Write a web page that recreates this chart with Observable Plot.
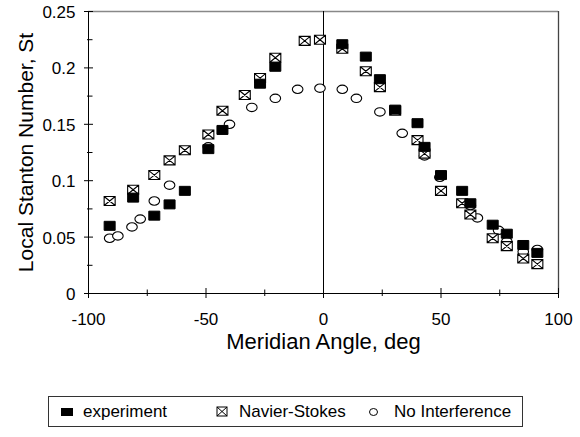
<!DOCTYPE html>
<html>
<head>
<meta charset="utf-8">
<script src="https://cdn.jsdelivr.net/npm/d3@7"></script>
<script src="https://cdn.jsdelivr.net/npm/@observablehq/plot@0.6"></script>
<style>
  html, body { margin: 0; padding: 0; background: #fff; }
  #wrap { position: relative; width: 580px; height: 437px; font-family: "Liberation Sans", Arial, sans-serif; }
  #legend { position: absolute; left: 48px; top: 396px; width: 473px; height: 29px; border: 1px solid #333; box-sizing: content-box; }
  #legend .item { position: absolute; top: 0; height: 29px; line-height: 29px; font-size: 17px; color: #000; white-space: nowrap; }
  #legend svg { position: absolute; }
</style>
</head>
<body>
<div id="wrap"><div id="chart"></div>
<div id="legend"></div></div>
<script>
// ---- data ----
const xDomain = [-100, 100];
const yDomain = [0, 0.25];
const xMajorTicks = [-100, -50, 0, 50, 100];
const xMinorTicks = [-75, -25, 25, 75];
const yMajorTicks = [0, 0.05, 0.1, 0.15, 0.2, 0.25];
const yMinorTicks = [0.025, 0.075, 0.125, 0.175, 0.225];
const centerLine = [0];

const experimentAngle = [-91, -81, -72, -65.5, -59, -49, -43, -27, -20.5, 8, 18, 24, 30.5, 40, 43, 50, 59, 62.5, 72, 78, 85, 91];
const experimentSt    = [0.060, 0.085, 0.069, 0.079, 0.091, 0.128, 0.145, 0.186, 0.201, 0.221, 0.210, 0.190, 0.163, 0.151, 0.130, 0.105, 0.091, 0.080, 0.061, 0.053, 0.043, 0.036];

const nsAngle = [-91, -81, -72, -65.5, -59, -49, -43, -33.5, -27, -20.5, -8, -1.5, 8, 18, 24, 30.5, 40, 43, 50, 59, 62.5, 72, 78, 85, 91];
const nsSt    = [0.082, 0.092, 0.105, 0.118, 0.127, 0.141, 0.162, 0.176, 0.191, 0.209, 0.224, 0.225, 0.217, 0.197, 0.183, 0.162, 0.136, 0.124, 0.091, 0.080, 0.070, 0.049, 0.042, 0.031, 0.026];

const niAngle = [-91, -87.5, -81.5, -78, -72, -65.5, -49, -40, -30.5, -20.5, -11, -1.5, 8, 14, 24, 33.5, 43, 49.5, 62.5, 65.5, 74.5, 78, 85, 91];
const niSt    = [0.049, 0.051, 0.059, 0.066, 0.082, 0.096, 0.130, 0.150, 0.165, 0.173, 0.181, 0.182, 0.181, 0.173, 0.161, 0.142, 0.122, 0.103, 0.078, 0.067, 0.056, 0.046, 0.037, 0.039];

const seriesNames = ["experiment", "Navier-Stokes", "No Interference"];

// ---- build tables ----
const experiment = experimentAngle.map((a, i) => ({angle: a, st: experimentSt[i]}));
const ns = nsAngle.map((a, i) => ({angle: a, st: nsSt[i]}));
const ni = niAngle.map((a, i) => ({angle: a, st: niSt[i]}));

// ---- symbols ----
const hw = 5.5, hh = 4.5;
const rectSymbol = {draw(c) { c.moveTo(-hw, -hh); c.lineTo(hw, -hh); c.lineTo(hw, hh); c.lineTo(-hw, hh); c.closePath(); }};
const crossSymbol = {draw(c) {
  c.moveTo(-hw, -hh); c.lineTo(hw, -hh); c.lineTo(hw, hh); c.lineTo(-hw, hh); c.closePath();
  c.moveTo(-hw, -hh); c.lineTo(hw, hh); c.moveTo(hw, -hh); c.lineTo(-hw, hh);
}};
const K = 0.5523;
const ellipseSymbol = {draw(c) {
  const rx = 5.3, ry = 4.2;
  c.moveTo(rx, 0);
  c.bezierCurveTo(rx, K * ry, K * rx, ry, 0, ry);
  c.bezierCurveTo(-K * rx, ry, -rx, K * ry, -rx, 0);
  c.bezierCurveTo(-rx, -K * ry, -K * rx, -ry, 0, -ry);
  c.bezierCurveTo(K * rx, -ry, rx, -K * ry, rx, 0);
  c.closePath();
}};

// ---- layout ----
const W = 580, H = 380, mL = 88, mR = 22, mT = 11, mB = 87;
const plotW = W - mL - mR, plotH = H - mT - mB;
const fmt = d => String(d);

const chart = Plot.plot({
  width: W, height: H,
  marginLeft: mL, marginRight: mR, marginTop: mT, marginBottom: mB,
  style: {fontFamily: "'Liberation Sans', Arial, sans-serif", background: "#fff", color: "#000"},
  x: {domain: xDomain},
  y: {domain: yDomain},
  marks: [
    Plot.ruleY([yDomain[1]], {stroke: "#888", strokeWidth: 1.3}),
    Plot.ruleX([xDomain[1]], {stroke: "#444", strokeWidth: 1.3}),
    Plot.ruleX(centerLine, {stroke: "#000", strokeWidth: 1}),
    Plot.ruleX([xDomain[0]], {stroke: "#000", strokeWidth: 1}),
    Plot.ruleY([yDomain[0]], {stroke: "#000", strokeWidth: 1}),
    Plot.tickX(xMajorTicks, {x: d => d, stroke: "#000", insetTop: plotH - 5, insetBottom: -5}),
    Plot.tickX(xMinorTicks, {x: d => d, stroke: "#000", insetTop: plotH - 3.5, insetBottom: -3}),
    Plot.tickY(yMajorTicks, {y: d => d, stroke: "#000", insetLeft: -4, insetRight: plotW - 5}),
    Plot.tickY(yMinorTicks, {y: d => d, stroke: "#000", insetLeft: -1, insetRight: plotW - 4.5}),
    Plot.axisX({ticks: xMajorTicks, tickSize: 0, tickPadding: 19, tickFormat: fmt, fontSize: 17, label: null}),
    Plot.axisY({ticks: yMajorTicks, tickSize: 0, tickPadding: 13, tickFormat: fmt, fontSize: 17, label: null, dy: 1}),
    Plot.text(["Meridian Angle, deg"], {text: d => d, frameAnchor: "bottom", textAnchor: "middle", lineAnchor: "middle", dy: 48, fontSize: 22}),
    Plot.text(["Local Stanton Number, St"], {text: d => d, frameAnchor: "left", textAnchor: "middle", lineAnchor: "middle", rotate: -90, dx: -62, fontSize: 21}),
    Plot.dot(ni, {x: "angle", y: "st", symbol: ellipseSymbol, r: 5, fill: "#fff", stroke: "#000", strokeWidth: 1.1}),
    Plot.dot(ns, {x: "angle", y: "st", symbol: crossSymbol, r: 5, fill: "#fff", stroke: "#000", strokeWidth: 1.1}),
    Plot.dot(experiment, {x: "angle", y: "st", symbol: rectSymbol, r: 5, fill: "#000", stroke: "#000", strokeWidth: 1})
  ]
});
document.getElementById("chart").appendChild(chart);

// ---- legend ----
const legend = document.getElementById("legend");
const legendSymbols = [
  '<svg width="14" height="10" style="left:11px;top:10px"><rect x="1" y="1" width="12" height="8" fill="#000"/></svg>',
  '<svg width="13" height="11" style="left:167px;top:9px"><rect x="1" y="1" width="10" height="9" fill="#fff" stroke="#000" stroke-width="1"/><path d="M1,1L11,10M11,1L1,10" stroke="#000" stroke-width="1"/></svg>',
  '<svg width="11" height="10" style="left:319px;top:10px"><ellipse cx="5.5" cy="5" rx="4" ry="3.5" fill="#fff" stroke="#000" stroke-width="1"/></svg>'
];
const legendTextLeft = [34, 190, 345];
seriesNames.forEach((name, i) => {
  legend.insertAdjacentHTML("beforeend", legendSymbols[i]);
  const span = document.createElement("div");
  span.className = "item";
  span.style.left = legendTextLeft[i] + "px";
  span.textContent = name;
  legend.appendChild(span);
});
</script>
</body>
</html>
